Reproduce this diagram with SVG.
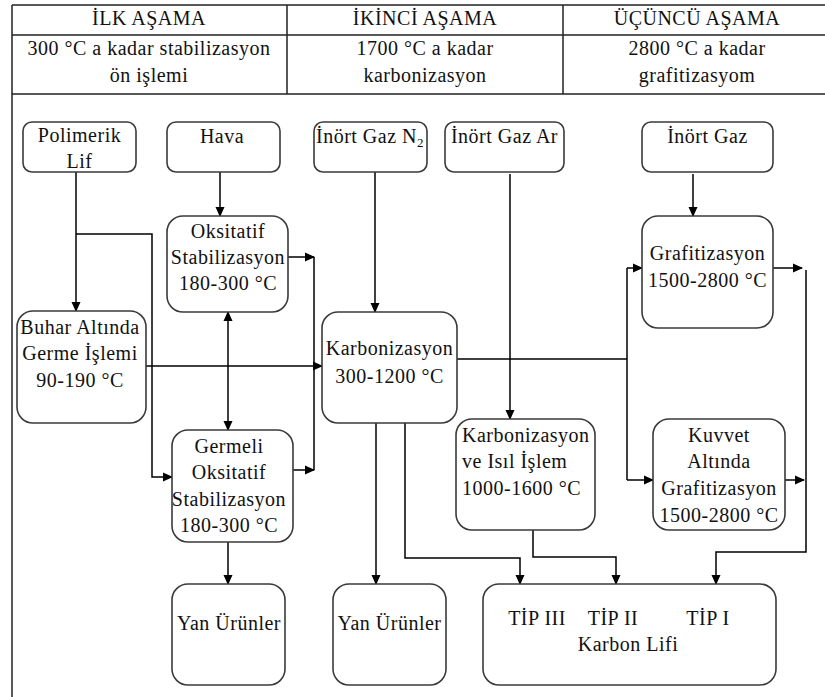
<svg xmlns="http://www.w3.org/2000/svg" width="825" height="697" viewBox="0 0 825 697">
<defs>
<marker id="ah" markerWidth="10" markerHeight="10" refX="9" refY="5" orient="auto" markerUnits="userSpaceOnUse">
<path d="M0,0.5 L10,5 L0,9.5 Z" fill="#000"/>
</marker>
<marker id="as" markerWidth="10" markerHeight="10" refX="1" refY="5" orient="auto" markerUnits="userSpaceOnUse">
<path d="M10,0.5 L0,5 L10,9.5 Z" fill="#000"/>
</marker>
</defs>
<style>
text{font-family:"Liberation Serif","Times New Roman",serif;font-size:20px;fill:#111;text-anchor:middle;letter-spacing:0.5px}
.l{text-anchor:start}
.box{fill:#fff;stroke:#3a3a3a;stroke-width:1.6}
.tbl{stroke:#222;stroke-width:1.5;fill:none}
.c path{fill:none;stroke:#000;stroke-width:1.5}
.a{marker-end:url(#ah)}
</style>
<rect width="825" height="697" fill="#fff"/>
<g id="table">
<path class="tbl" d="M12,5 H825 M12,35 H825 M12,94 H825 M12,5 V697 M287,5 V94 M563,5 V94"/>
<text x="149" y="25">İLK AŞAMA</text>
<text x="425" y="25">İKİNCİ AŞAMA</text>
<text x="697" y="25">ÜÇÜNCÜ AŞAMA</text>
<text x="149" y="55">300 °C a kadar stabilizasyon</text>
<text x="149" y="82">ön işlemi</text>
<text x="425" y="55">1700 °C a kadar</text>
<text x="425" y="82">karbonizasyon</text>
<text x="697" y="55">2800 °C a kadar</text>
<text x="697" y="82">grafitizasyom</text>
</g>
<g class="c" id="connectors">
<path class="a" d="M76,172 V311"/>
<path class="a" d="M76,234 H152 V477 H172"/>
<path class="a" d="M220,172 V216"/>
<path class="a" d="M288,257 H314"/>
<path d="M314,257 V470"/>
<path class="a" d="M293,470 H314"/>
<path class="a" d="M146,366 H322"/>
<path class="a" d="M228,312 V430" style="marker-start:url(#as)"/>
<path class="a" d="M375,172 V312"/>
<path class="a" d="M510,174 V419"/>
<path class="a" d="M693,174 V216"/>
<path d="M457,359 H627"/>
<path d="M627,268 V480"/>
<path class="a" d="M627,268 H642"/>
<path class="a" d="M627,480 H653"/>
<path class="a" d="M773,268 H802"/>
<path class="a" d="M785,480 H804"/>
<path class="a" d="M806,270 V552 H716 V584"/>
<path class="a" d="M376,423 V584"/>
<path class="a" d="M405,423 V558 H520 V584"/>
<path class="a" d="M533,530 V557 H616 V584"/>
<path class="a" d="M228,542 V584"/>
</g>
<g id="polimerik"><rect class="box" x="23" y="122" width="113" height="50" rx="9"/><text x="79.5" y="142">Polimerik</text><text x="79.5" y="168">Lif</text></g>
<g id="hava"><rect class="box" x="167" y="122" width="113" height="50" rx="9"/><text x="222" y="143">Hava</text></g>
<g id="inert-n2"><rect class="box" x="314" y="122" width="113" height="50" rx="9"/><text x="370" y="143">İnört Gaz N<tspan font-size="13" dy="4">2</tspan></text></g>
<g id="inert-ar"><rect class="box" x="445" y="122" width="119" height="50" rx="9"/><text x="504.5" y="143">İnört Gaz Ar</text></g>
<g id="inert"><rect class="box" x="642" y="122" width="131" height="50" rx="9"/><text x="707.5" y="143">İnört Gaz</text></g>
<g id="oksitatif"><rect class="box" x="167" y="216" width="121" height="96" rx="16"/><text x="228" y="238">Oksitatif</text><text x="228" y="264">Stabilizasyon</text><text x="228" y="290">180-300 °C</text></g>
<g id="buhar"><rect class="box" x="17" y="311" width="129" height="112" rx="16"/><text x="80" y="334">Buhar Altında</text><text x="80" y="360">Germe İşlemi</text><text x="80" y="387">90-190 °C</text></g>
<g id="karbonizasyon"><rect class="box" x="322" y="312" width="135" height="111" rx="16"/><text x="389.5" y="355">Karbonizasyon</text><text x="389.5" y="383">300-1200 °C</text></g>
<g id="grafitizasyon"><rect class="box" x="642" y="216" width="131" height="112" rx="16"/><text x="707.5" y="260">Grafitizasyon</text><text x="707.5" y="287">1500-2800 °C</text></g>
<g id="germeli"><rect class="box" x="172" y="430" width="121" height="112" rx="16"/><text x="229" y="453">Germeli</text><text x="229" y="479">Oksitatif</text><text x="229" y="506">Stabilizasyon</text><text x="229" y="532">180-300 °C</text></g>
<g id="karb-isil"><rect class="box" x="456" y="419" width="139" height="111" rx="16"/><text class="l" x="462" y="442">Karbonizasyon</text><text class="l" x="462" y="468">ve Isıl İşlem</text><text class="l" x="462" y="495">1000-1600 °C</text></g>
<g id="kuvvet"><rect class="box" x="653" y="419" width="132" height="111" rx="16"/><text x="719" y="442">Kuvvet</text><text x="719" y="468">Altında</text><text x="719" y="495">Grafitizasyon</text><text x="719" y="522">1500-2800 °C</text></g>
<g id="yan1"><rect class="box" x="172" y="584" width="113" height="101" rx="16"/><text x="229" y="630">Yan Ürünler</text></g>
<g id="yan2"><rect class="box" x="333" y="584" width="113" height="101" rx="16"/><text x="389.5" y="630">Yan Ürünler</text></g>
<g id="karbon-lifi"><rect class="box" x="483" y="584" width="293" height="101" rx="16"/><text x="537" y="625">TİP III</text><text x="613" y="625">TİP II</text><text x="708" y="625">TİP I</text><text x="628" y="651">Karbon Lifi</text></g>
</svg>
